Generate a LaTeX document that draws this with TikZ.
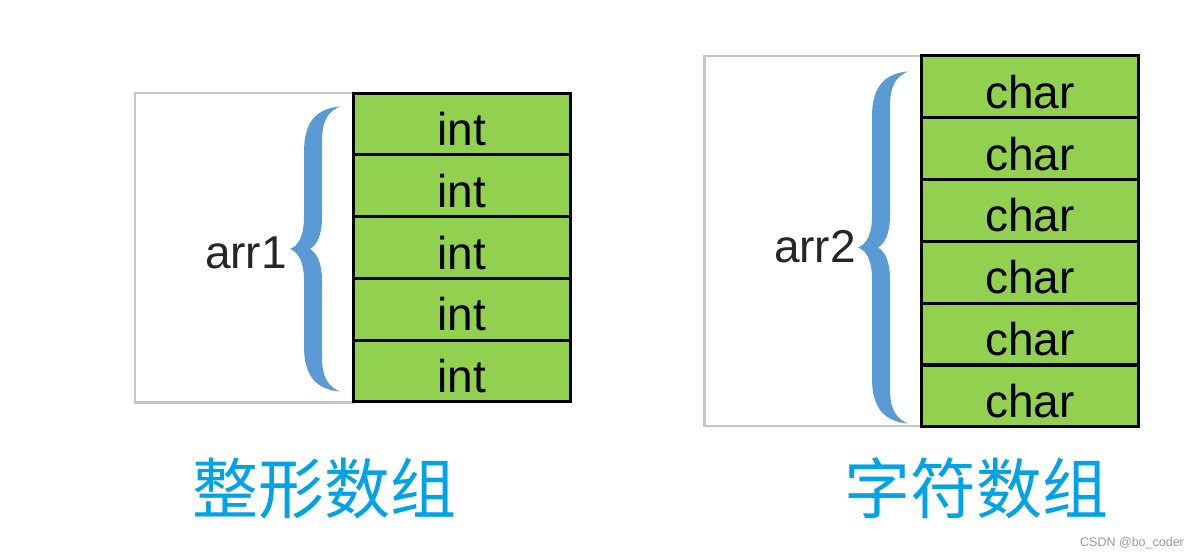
\documentclass[tikz,border=0pt]{standalone}
\usepackage{fontspec}
\setmainfont{Liberation Sans}
\newfontfamily\cjkfont{Noto Sans CJK SC}
\definecolor{cellgreen}{HTML}{92D050}
\definecolor{bracecol}{HTML}{5B9BD5}
\definecolor{titleblue}{HTML}{00A2E8}
\definecolor{framegray}{HTML}{C6C6C6}
\definecolor{markgray}{HTML}{9A9A9A}
\newcommand\bracefill[3]{% #1 end x, #2 mid y, #3 half height
  \fill[bracecol] (#1,{#2-#3})
   .. controls ({#1-24},{#2-#3+2}) and ({#1-36},{#2-#3+16}) .. ({#1-36},{#2-#3+45})
   -- ({#1-36},{#2-32})
   .. controls ({#1-36},{#2-12}) and ({#1-42},{#2-3}) .. ({#1-50},#2)
   .. controls ({#1-42},{#2+3}) and ({#1-36},{#2+12}) .. ({#1-36},{#2+32})
   -- ({#1-36},{#2+#3-45})
   .. controls ({#1-36},{#2+#3-16}) and ({#1-24},{#2+#3-2}) .. (#1,{#2+#3})
   .. controls ({#1-12},{#2+#3-5}) and ({#1-18},{#2+#3-14}) .. ({#1-18},{#2+#3-35})
   -- ({#1-18},{#2+32})
   .. controls ({#1-18},{#2+14}) and ({#1-23},{#2+4}) .. ({#1-30},#2)
   .. controls ({#1-23},{#2-4}) and ({#1-18},{#2-14}) .. ({#1-18},{#2-32})
   -- ({#1-18},{#2-#3+35})
   .. controls ({#1-18},{#2-#3+14}) and ({#1-12},{#2-#3+5}) .. (#1,{#2-#3})
   -- cycle;}
\tikzset{
  cell/.style={draw=black, line width=3pt, fill=cellgreen, anchor=north west,
    minimum width=217.5pt, minimum height=61.7pt, inner sep=0pt, outer sep=0pt,
    text height=43pt, text depth=0pt, font=\fontsize{46}{46}\selectfont},
  grayframe/.style={draw=framegray, line width=2.6pt, anchor=north west, inner sep=0pt, outer sep=0pt},
  arrlabel/.style={anchor=base east, inner sep=0pt, font=\fontsize{46}{46}\selectfont, text=black!85},
  titletext/.style={anchor=base, inner sep=0pt, text=titleblue, font=\cjkfont\fontsize{66}{66}\selectfont},
  wmark/.style={anchor=base west, inner sep=0pt, text=markgray, font=\fontsize{12.5}{12.5}\selectfont}
}
\begin{document}
\begin{tikzpicture}[x=1pt,y=-1pt]
\path[use as bounding box, fill=white] (0,0) rectangle (1204,556);
% left array
\node[grayframe, minimum width=218pt, minimum height=309.5pt] (frameL) at (135,93) {};
\foreach \i in {0,...,4}{
  \node[cell] (L\i) at (353,{93.3+61.7*\i}) {int};
}
\bracefill{340}{249}{142.5}
\node[arrlabel] (arr1) at (287,268.3) {arr1};
% right array
\node[grayframe, minimum width=216.5pt, minimum height=370pt] (frameR) at (704.5,56) {};
\foreach \i in {0,...,5}{
  \node[cell] (R\i) at (921,{56+61.8*\i}) {char};
}
\bracefill{908}{247.5}{176}
\node[arrlabel] (arr2) at (856,262.3) {arr2};
% titles
\node[titletext] (t1) at (324,513) {整形数组};
\node[titletext] (t2) at (976,513) {字符数组};
\node[wmark] (wm) at (1080,546) {CSDN @bo\_coder};
\end{tikzpicture}
\end{document}
